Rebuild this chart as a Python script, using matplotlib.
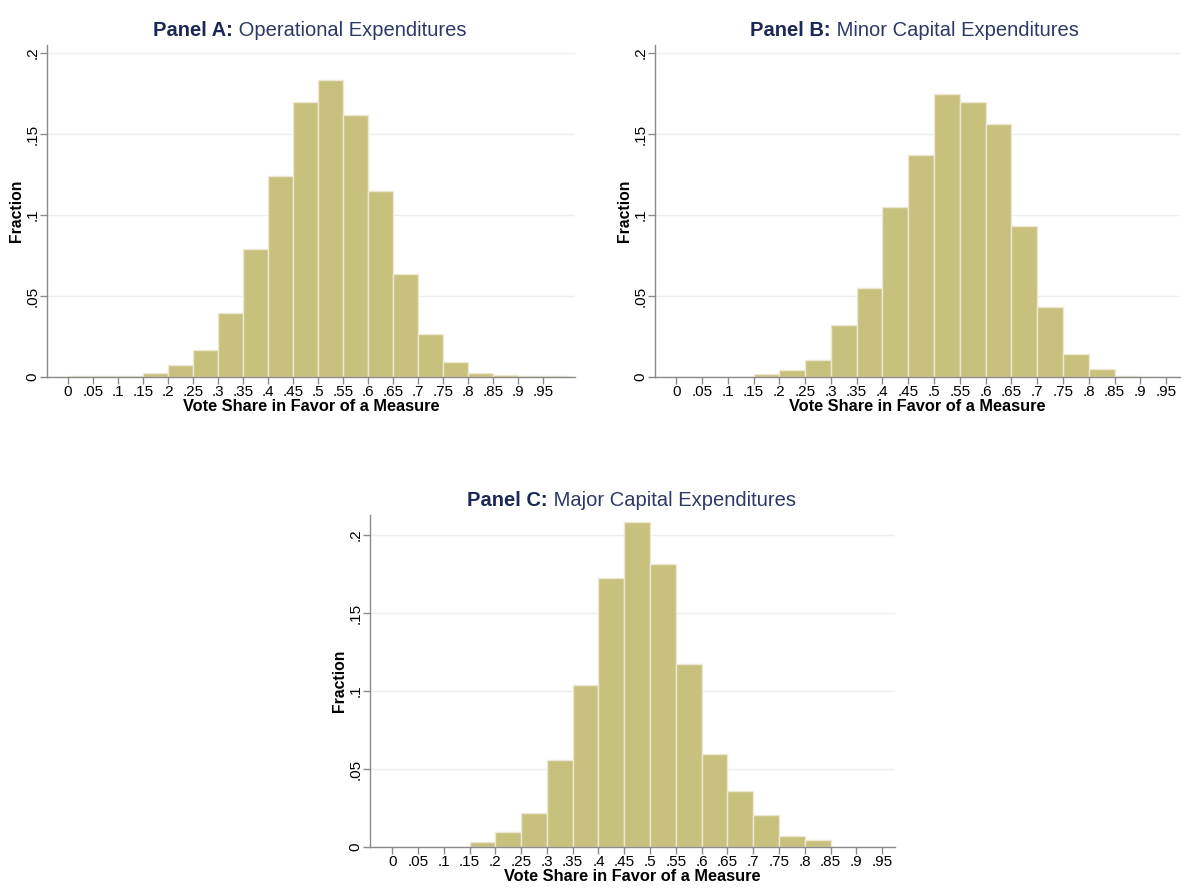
import matplotlib
matplotlib.use("Agg")
import matplotlib.pyplot as plt

# bin left edges (width .05) and fractions
bin_left = [i * 0.05 for i in range(20)]

panel_a = [0.0006, 0.0005, 0.0005, 0.0027, 0.0076, 0.0169, 0.0394, 0.0788, 0.124, 0.1697,
           0.1835, 0.1619, 0.1148, 0.0633, 0.0268, 0.0091, 0.0023, 0.0010, 0.0006, 0.0006]
panel_b = [0.0, 0.0, 0.0, 0.0019, 0.0043, 0.0107, 0.0322, 0.0548, 0.105, 0.137,
           0.175, 0.1695, 0.156, 0.0934, 0.0435, 0.014, 0.0047, 0.0006, 0.0, 0.0]
panel_c = [0.0, 0.0, 0.0, 0.0034, 0.0097, 0.0215, 0.0558, 0.1039, 0.1723, 0.2082,
           0.1813, 0.1176, 0.0599, 0.0358, 0.0202, 0.0073, 0.0047, 0.0, 0.0, 0.0]

x_ticks = [i * 0.05 for i in range(20)]
x_tick_labels = ["0", ".05", ".1", ".15", ".2", ".25", ".3", ".35", ".4", ".45",
                 ".5", ".55", ".6", ".65", ".7", ".75", ".8", ".85", ".9", ".95"]
y_ticks = [0, 0.05, 0.1, 0.15, 0.2]
y_tick_labels = ["0", ".05", ".1", ".15", ".2"]

BAR = "#c8c17e"
EDGE = "#ece8d4"
NAVY = "#1b2755"
GRID = "#eeeeee"
AXC = "#8a8a8a"

plt.rcParams["font.family"] = ["Liberation Sans", "DejaVu Sans"]

fig = plt.figure(figsize=(11.88, 8.88), dpi=100)


def draw_panel(rect, data, xlim, ylim, bold, rest, title_xy):
    ax = fig.add_axes(rect)
    ax.bar(bin_left, data, width=0.05, align="edge", color=BAR, edgecolor=EDGE, linewidth=1.0, zorder=2)
    ax.set_xlim(*xlim)
    ax.set_ylim(*ylim)
    ax.set_yticks(y_ticks)
    ax.set_yticklabels(y_tick_labels, rotation=90, va="center", fontsize=11)
    ax.set_xticks(x_ticks)
    ax.set_xticklabels(x_tick_labels, fontsize=11)
    ax.grid(axis="y", color=GRID, linewidth=1.0, zorder=0)
    for s in ["top", "right"]:
        ax.spines[s].set_visible(False)
    for s in ["left", "bottom"]:
        ax.spines[s].set_color(AXC)
        ax.spines[s].set_linewidth(1.0)
    ax.tick_params(axis="both", color=AXC, length=5, width=1, pad=1)
    ax.tick_params(axis="y", pad=0.5)
    ax.set_xlabel("Vote Share in Favor of a Measure", fontsize=11.8, fontweight="bold", labelpad=-0.5)
    ax.set_ylabel("Fraction", fontsize=11.3, fontweight="bold", labelpad=1)
    t1 = fig.text(title_xy[0], title_xy[1], bold, fontsize=14.5, fontweight="bold", color=NAVY,
                  ha="left", va="center")
    ax.annotate(" " + rest, xy=(1, 0), xycoords=t1, fontsize=14.5, color="#2c3866",
                ha="left", va="bottom")
    return ax


draw_panel([47 / 1188, 1 - 377 / 888, 528 / 1188, 332 / 888], panel_a,
           (-0.042, 1.014), (0, 0.205), "Panel A:", "Operational Expenditures",
           (153 / 1188, 1 - 30 / 888))
draw_panel([655 / 1188, 1 - 377 / 888, 525 / 1188, 332 / 888], panel_b,
           (-0.041, 0.977), (0, 0.205), "Panel B:", "Minor Capital Expenditures",
           (750 / 1188, 1 - 30 / 888))
draw_panel([370 / 1188, 1 - 847 / 888, 525 / 1188, 332 / 888], panel_c,
           (-0.043, 0.975), (0, 0.2128), "Panel C:", "Major Capital Expenditures",
           (467 / 1188, 1 - 500 / 888))

fig.savefig("out.png", dpi=100)
